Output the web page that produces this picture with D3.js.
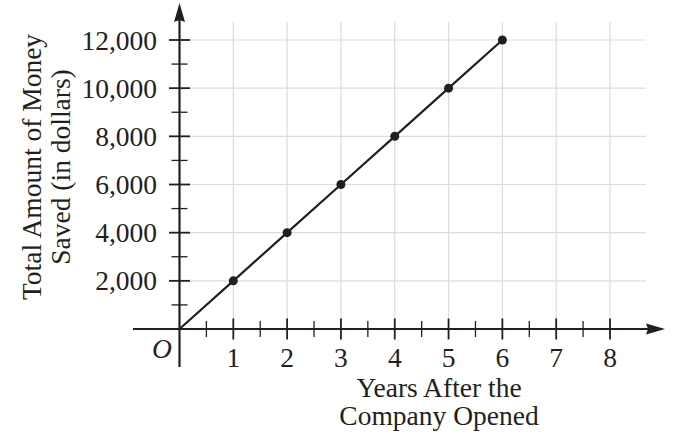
<!DOCTYPE html>
<html>
<head>
<meta charset="utf-8">
<script src="https://cdn.jsdelivr.net/npm/d3@7"></script>
<style>
  body { margin: 0; background: #fff; }
  text { font-family: "Liberation Serif", "Times New Roman", serif; fill: #231f20; }
</style>
</head>
<body>
<svg id="chart" width="673" height="443"></svg>
<script>
// data
const years = [0, 1, 2, 3, 4, 5, 6]
const saved = [0, 2000, 4000, 6000, 8000, 10000, 12000]
const xTicks = [1, 2, 3, 4, 5, 6, 7, 8]
const yTicks = [2000, 4000, 6000, 8000, 10000, 12000]
const xTitle = ['Years After the', 'Company Opened']
const yTitle = ['Total Amount of Money', 'Saved (in dollars)']

const svg = d3.select('#chart')
const ink = '#231f20', gridColor = '#dcdcdc'
const fs = 27.5

/* scales: origin at about (179.5, 329) */
const x = d3.scaleLinear().domain([0, 8]).range([179.5, 610])
const y = d3.scaleLinear().domain([0, 12000]).range([329, 40])

/* grid */
svg.append('g').selectAll('line')
    .data(xTicks)
    .join('line')
    .attr('x1', d => x(d)).attr('x2', d => x(d))
    .attr('y1', 22).attr('y2', y(0))
    .attr('stroke', gridColor).attr('stroke-width', 1.2)

svg.append('g').selectAll('line')
    .data(yTicks)
    .join('line')
    .attr('x1', x(0)).attr('x2', 646)
    .attr('y1', d => y(d)).attr('y2', d => y(d))
    .attr('stroke', gridColor).attr('stroke-width', 1.2)

/* axes */
svg.append('line')
    .attr('x1', 133).attr('x2', 652)
    .attr('y1', y(0)).attr('y2', y(0))
    .attr('stroke', ink).attr('stroke-width', 2.2)
svg.append('line')
    .attr('x1', x(0)).attr('x2', x(0))
    .attr('y1', 367).attr('y2', 16)
    .attr('stroke', ink).attr('stroke-width', 2.2)

/* arrow heads */
svg.append('path')
    .attr('d', `M665,${y(0)} L646,${y(0) - 5.5} L648,${y(0)} L646,${y(0) + 5.5} Z`)
    .attr('fill', ink)
svg.append('path')
    .attr('d', `M${x(0)},3 L${x(0) - 5.5},22 L${x(0)},20 L${x(0) + 5.5},22 Z`)
    .attr('fill', ink)

/* ticks, major and half-step minor */
const xMinor = d3.range(0.5, 8, 1)
const yMinor = d3.range(1000, 13000, 2000)

svg.append('g').selectAll('line')
    .data(xTicks)
    .join('line')
    .attr('x1', d => x(d)).attr('x2', d => x(d))
    .attr('y1', y(0) - 10.5).attr('y2', y(0) + 10.5)
    .attr('stroke', ink).attr('stroke-width', 1.8)
svg.append('g').selectAll('line')
    .data(xMinor)
    .join('line')
    .attr('x1', d => x(d)).attr('x2', d => x(d))
    .attr('y1', y(0) - 8).attr('y2', y(0) + 8)
    .attr('stroke', ink).attr('stroke-width', 1.3)

svg.append('g').selectAll('line')
    .data(yTicks)
    .join('line')
    .attr('x1', x(0) - 10.5).attr('x2', x(0) + 10.5)
    .attr('y1', d => y(d)).attr('y2', d => y(d))
    .attr('stroke', ink).attr('stroke-width', 1.8)
svg.append('g').selectAll('line')
    .data(yMinor)
    .join('line')
    .attr('x1', x(0) - 8).attr('x2', x(0) + 8)
    .attr('y1', d => y(d)).attr('y2', d => y(d))
    .attr('stroke', ink).attr('stroke-width', 1.3)

/* tick labels */
svg.append('g').selectAll('text')
    .data(xTicks)
    .join('text')
    .attr('x', d => x(d))
    .attr('y', 367)
    .attr('text-anchor', 'middle')
    .style('font-size', fs + 'px')
    .text(d => d)

svg.append('g').selectAll('text')
    .data(yTicks)
    .join('text')
    .attr('x', 157)
    .attr('y', d => y(d) + 9.5)
    .attr('text-anchor', 'end')
    .style('font-size', fs + 'px')
    .text(d => d3.format(',')(d))

svg.append('text')
    .attr('x', 162).attr('y', 358)
    .attr('text-anchor', 'middle')
    .style('font-size', fs + 'px')
    .style('font-style', 'italic')
    .text('O')

/* the line and its dots */
const line = d3.line()
    .x((d, i) => x(years[i]))
    .y(d => y(d))

svg.append('path')
    .datum(saved)
    .attr('d', line)
    .attr('fill', 'none')
    .attr('stroke', ink)
    .attr('stroke-width', 2.2)

svg.append('g').selectAll('circle')
    .data(years.filter(d => d > 0))
    .join('circle')
    .attr('cx', d => x(d))
    .attr('cy', d => y(saved[years.indexOf(d)]))
    .attr('r', 4.5)
    .attr('fill', ink)

/* axis titles */
svg.append('g').selectAll('text')
    .data(xTitle)
    .join('text')
    .attr('x', 439)
    .attr('y', (d, i) => 397 + i * 28)
    .attr('text-anchor', 'middle')
    .style('font-size', fs + 'px')
    .text(d => d)

svg.append('g').selectAll('text')
    .data(yTitle)
    .join('text')
    .attr('transform', (d, i) => `translate(${41 + i * 29},167) rotate(-90)`)
    .attr('text-anchor', 'middle')
    .style('font-size', fs + 'px')
    .text(d => d)
</script>
</body>
</html>
